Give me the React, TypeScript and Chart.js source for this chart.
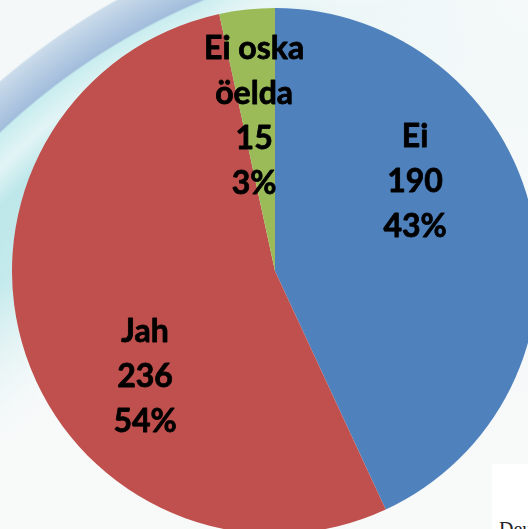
import React, { useEffect, useRef } from "react";
import { Chart, registerables } from "chart.js";

Chart.register(...registerables);

const categories = ["Ei", "Jah", "Ei oska öelda"];
const counts = [190, 236, 15];
const colors = ["#4f81bd", "#c0504d", "#9bbb59"];

// label placement (layout only): angle in degrees around pie centre, distance as fraction of radius
const labelLayout = [
  { angle: -33, dist: 0.635 },
  { angle: 141.3, dist: 0.633 },
  { angle: -97.6, dist: 0.6 },
];

const LABEL_FONT = "bold 32px Lato, 'Open Sans', sans-serif";
const LINE_GAP = 45;
const WRAP_WIDTH = 130;

const labelPlugin = {
  id: "sliceLabels",
  afterDatasetsDraw(chart: any) {
    const ctx = chart.ctx;
    const meta = chart.getDatasetMeta(0);
    const data = chart.data.datasets[0].data as number[];
    const total = data.reduce((a, b) => a + b, 0);
    ctx.save();
    ctx.font = LABEL_FONT;
    ctx.fillStyle = "#000";
    ctx.strokeStyle = "#000";
    ctx.lineWidth = 0.8;
    ctx.lineJoin = "round";
    ctx.textAlign = "center";
    ctx.textBaseline = "alphabetic";
    meta.data.forEach((arc: any, i: number) => {
      const { x, y, outerRadius } = arc.getProps(["x", "y", "outerRadius"], true);
      const lay = labelLayout[i];
      const a = (lay.angle * Math.PI) / 180;
      const cx = x + Math.cos(a) * lay.dist * outerRadius;
      const cy = y + Math.sin(a) * lay.dist * outerRadius;
      const words = String(chart.data.labels[i]).split(" ");
      const lines: string[] = [];
      let cur = "";
      for (const w of words) {
        const t = cur ? cur + " " + w : w;
        if (cur && ctx.measureText(t).width > WRAP_WIDTH) {
          lines.push(cur);
          cur = w;
        } else cur = t;
      }
      if (cur) lines.push(cur);
      lines.push(String(data[i]));
      lines.push(Math.round((data[i] / total) * 100) + "%");
      const n = lines.length;
      lines.forEach((ln, k) => {
        const ly = cy + (k - (n - 1) / 2) * LINE_GAP + 11.5;
        ctx.fillText(ln, cx, ly);
        ctx.strokeText(ln, cx, ly);
      });
    });
    ctx.restore();
  },
};

export default function App() {
  const ref = useRef<HTMLCanvasElement | null>(null);
  useEffect(() => {
    if (!ref.current) return;
    const chart = new Chart(ref.current, {
      type: "pie",
      data: {
        labels: categories,
        datasets: [
          {
            data: counts,
            backgroundColor: colors,
            borderWidth: 0,
            hoverOffset: 0,
            offset: 0,
          },
        ],
      },
      options: {
        responsive: false,
        maintainAspectRatio: false,
        animation: false,
        events: [],
        layout: { padding: 0 },
        plugins: {
          legend: { display: false },
          tooltip: { enabled: false },
        },
      },
      plugins: [labelPlugin],
    });
    return () => chart.destroy();
  }, []);

  const bg = [
    "radial-gradient(circle at 528px 0px, rgba(245,249,249,1) 0px, rgba(245,249,249,0.85) 190px, rgba(245,249,249,0) 330px)",
    "linear-gradient(to bottom, rgba(248,250,250,0) 290px, rgba(248,250,250,1) 450px)",
    "radial-gradient(circle at 460px 617px, rgba(190,232,235,0) 470px, rgba(190,232,235,0.9) 570px, #bde7ea 615px, #e2f4f5 642px, #c9edef 667px, #a2bddc 669px, #cadbea 705px, rgba(245,248,248,0) 707px)",
    "#f5f8f8",
  ].join(", ");

  return (
    <div
      style={{
        position: "fixed",
        left: 0,
        top: 0,
        width: 528,
        height: 529,
        overflow: "hidden",
        background: bg,
      }}
    >
      <div
        style={{
          position: "absolute",
          left: 492,
          top: 464,
          width: 36,
          height: 65,
          background: "#ffffff",
        }}
      />
      <div
        style={{
          position: "absolute",
          left: 499,
          top: 519,
          fontFamily: "'Liberation Serif', 'DejaVu Serif', serif",
          fontSize: 20,
          lineHeight: "20px",
          color: "#222",
          whiteSpace: "nowrap",
        }}
      >
        Deutsch
      </div>
      <canvas
        ref={ref}
        width={526}
        height={526}
        style={{ position: "absolute", left: 12, top: 8, width: 526, height: 526 }}
      />
    </div>
  );
}
